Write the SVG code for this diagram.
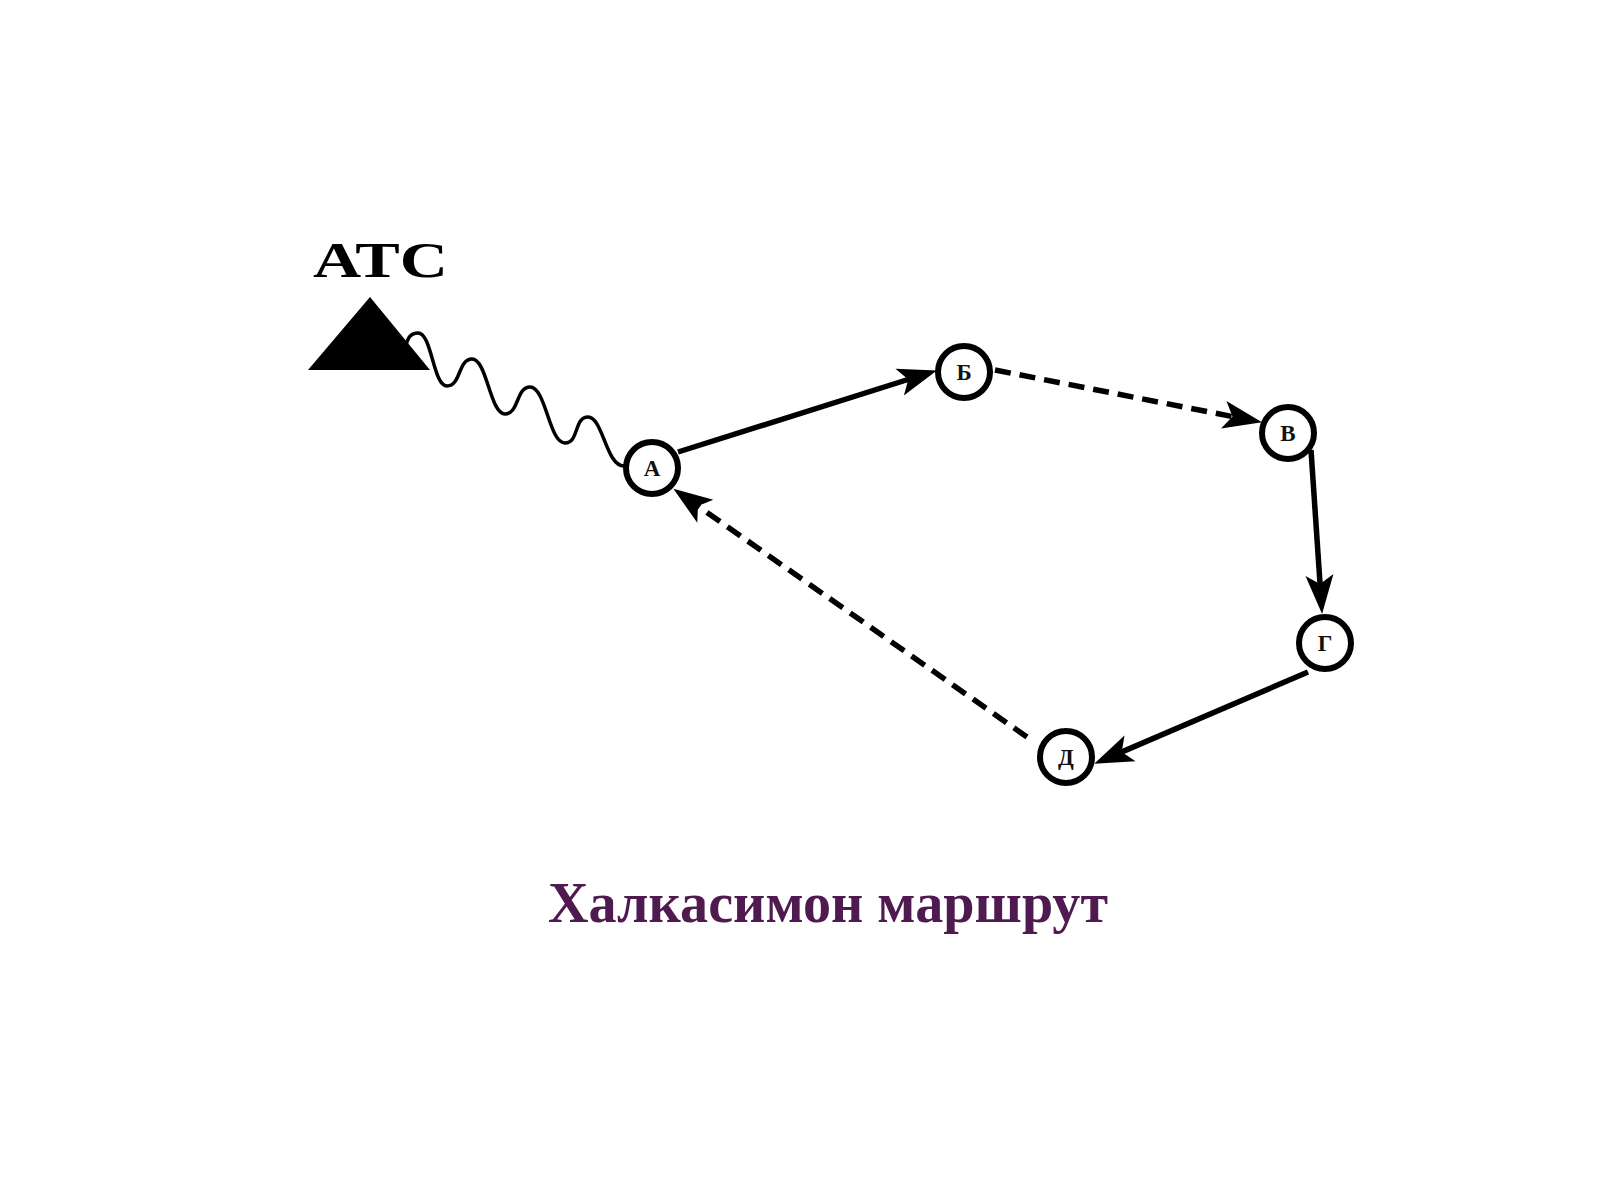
<svg xmlns="http://www.w3.org/2000/svg" width="1600" height="1200" viewBox="0 0 1600 1200">
<style>
.node circle{fill:#fff;stroke:#000;stroke-width:6}
.node text{font-family:"Liberation Serif","Times New Roman",serif;font-weight:bold;font-size:23px;fill:#111;text-anchor:middle}
.edge{fill:none;stroke:#000;stroke-width:5.5}
.dash{stroke-dasharray:16 9}
.title{font-family:"Liberation Serif","Times New Roman",serif;font-weight:bold}
</style>
<defs>
<marker id="arr" markerUnits="userSpaceOnUse" viewBox="-20 -16 44 32" refX="0" refY="0" markerWidth="44" markerHeight="32" orient="auto">
<path d="M22,0 L-17,-14 L-8,0 L-17,14 Z" fill="#000"/>
</marker>
</defs>
<rect width="1600" height="1200" fill="#fff"/>
<g id="atc">
<text class="title" x="313" y="277" font-size="50" textLength="135" lengthAdjust="spacingAndGlyphs" fill="#000">АТС</text>
<polygon points="370,297 308,370 430,370" fill="#000"/>
</g>
<g id="connectors">
<path d="M406,347 C407,338 411,333 418,333 C432,333 433,386 447,386 C461,386 458,359 472,359 C487,359 490,414 505,414 C519,414 516,387 530,387 C546,387 549,443 565,443 C579,443 574,417 588,417 C603,417 606,466 624,466" fill="none" stroke="#000" stroke-width="3.5"/>
<line class="edge" x1="678" y1="452" x2="915.9" y2="377" marker-end="url(#arr)"/>
<line class="edge dash" x1="995" y1="370" x2="1240.4" y2="418.1" marker-end="url(#arr)"/>
<line class="edge" stroke-width="4.5" x1="1311" y1="450" x2="1320.6" y2="592" marker-end="url(#arr)"/>
<line class="edge" x1="1308" y1="672" x2="1114.4" y2="755.1" marker-end="url(#arr)"/>
<line class="edge dash" x1="1027" y1="737" x2="691.4" y2="501.5" marker-end="url(#arr)"/>
</g>
<g id="node-A" class="node"><circle cx="652" cy="468" r="26"/><text x="652" y="476">А</text></g>
<g id="node-B" class="node"><circle cx="964" cy="372" r="26"/><text x="964" y="380">Б</text></g>
<g id="node-V" class="node"><circle cx="1288" cy="433" r="26"/><text x="1288" y="441">В</text></g>
<g id="node-G" class="node"><circle cx="1325" cy="643" r="26"/><text x="1325" y="651">Г</text></g>
<g id="node-D" class="node"><circle cx="1066" cy="757" r="26"/><text x="1066" y="765">Д</text></g>
<text class="title" x="548" y="922" font-size="57" textLength="560" lengthAdjust="spacingAndGlyphs" fill="#4f1a4f">Халкасимон маршрут</text>
</svg>
